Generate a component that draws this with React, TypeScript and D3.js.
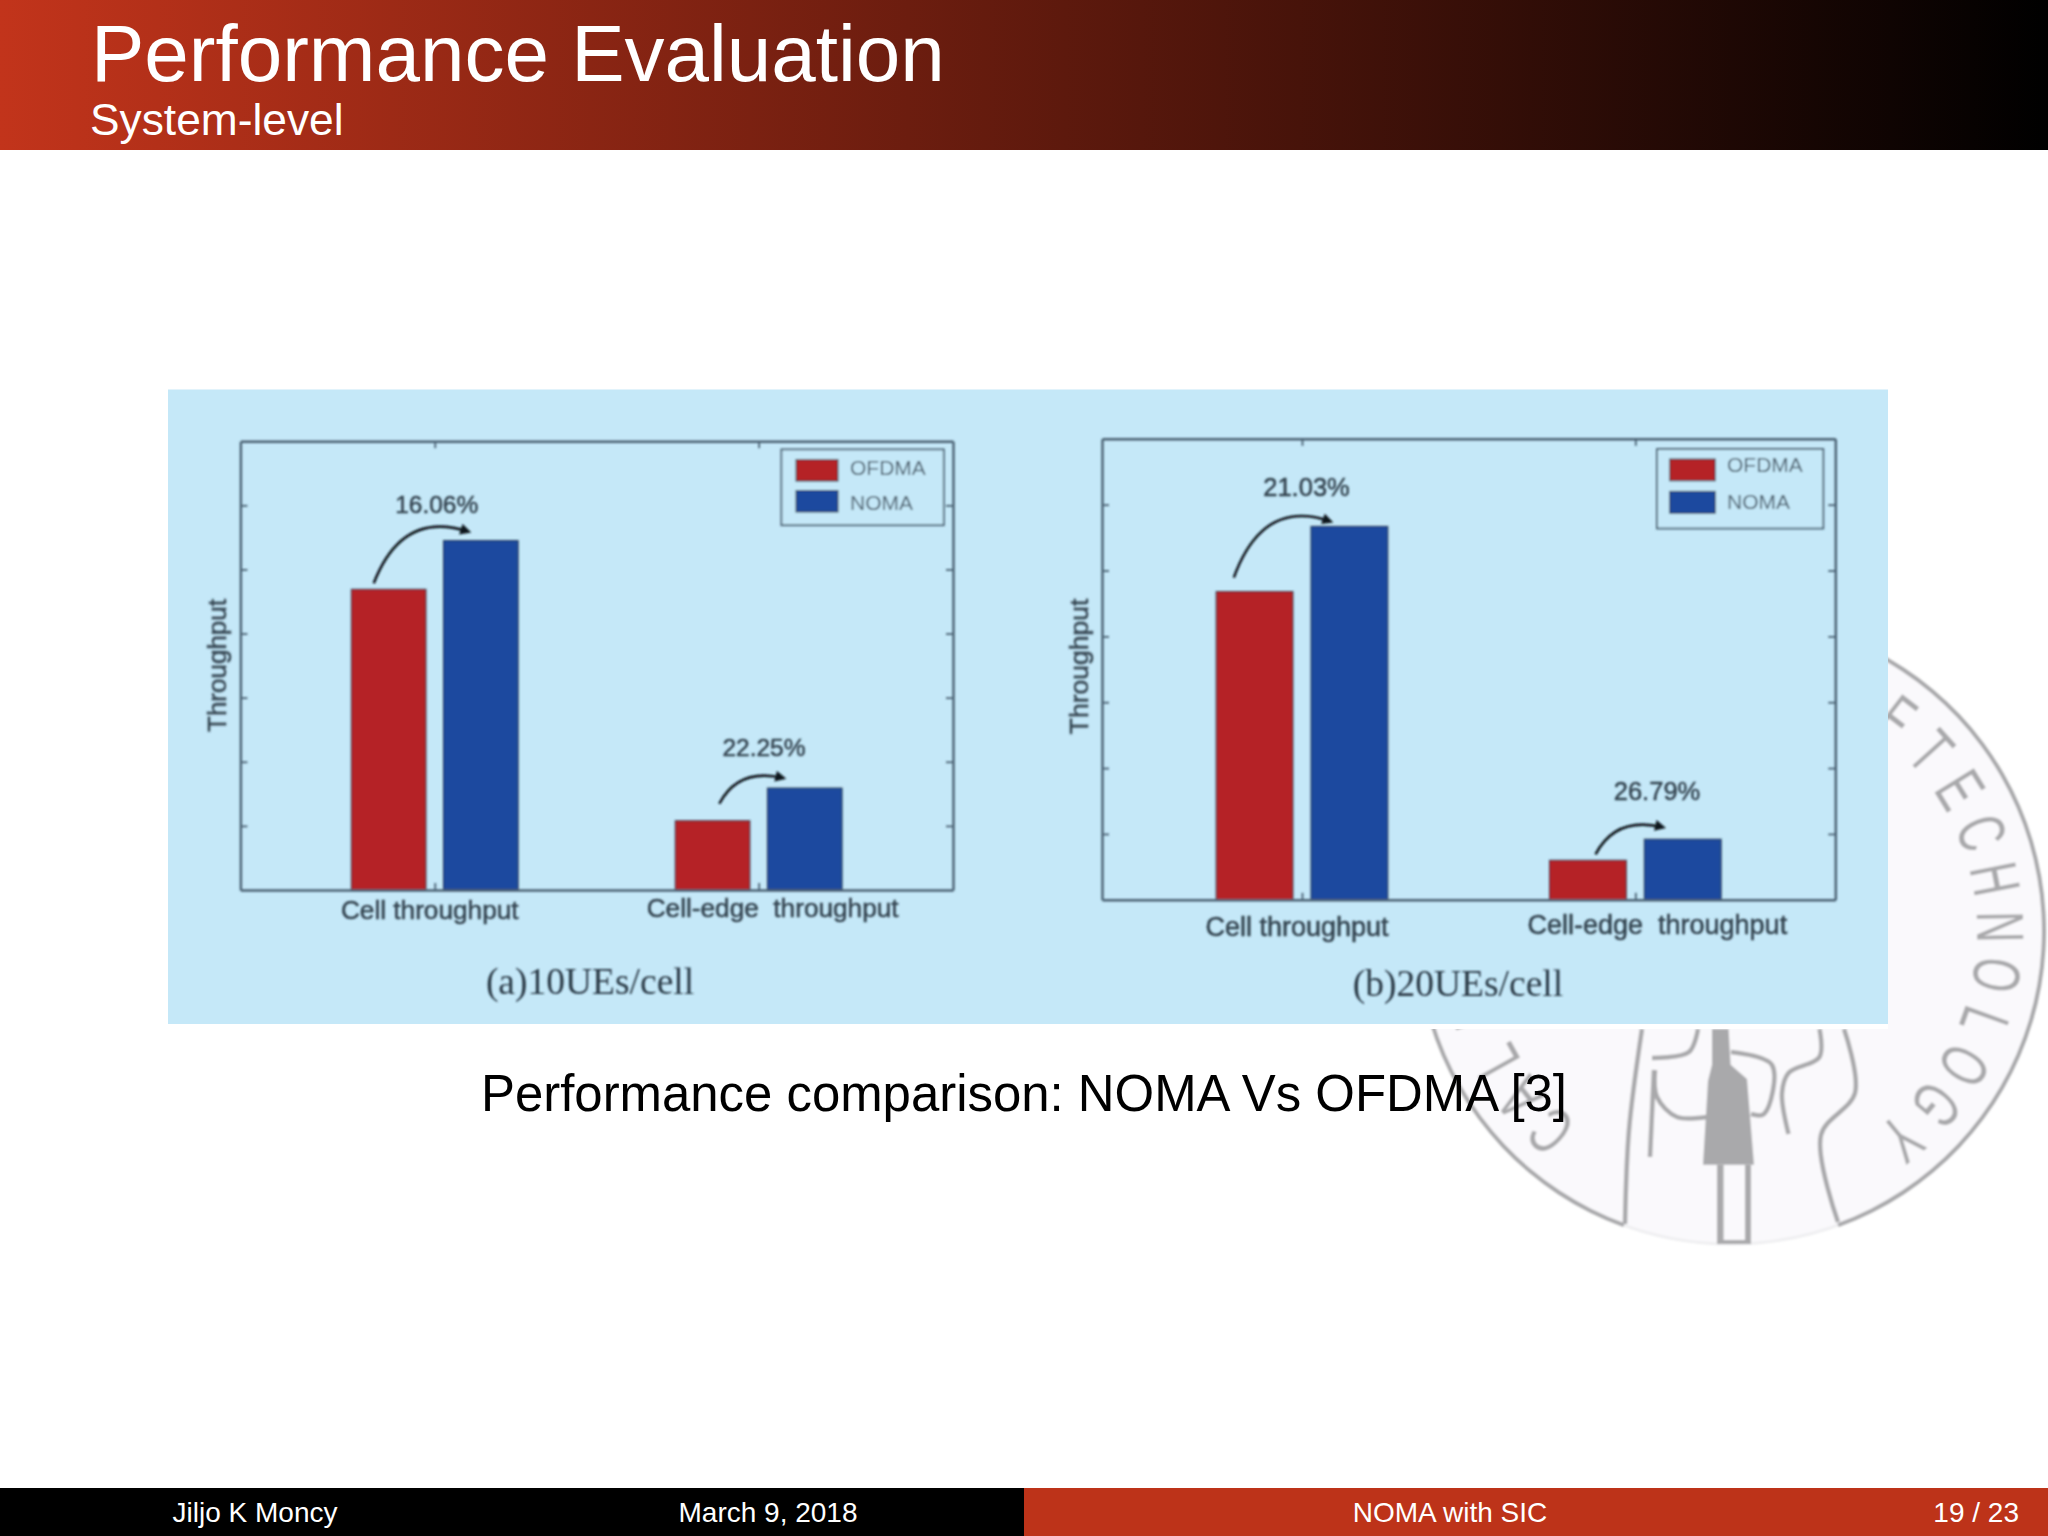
/*eslint-disable*/
import React, { useEffect, useRef } from 'react';
import * as d3 from 'd3';

// values, in tick units of the unlabelled y axis
const categories = ['Cell throughput', 'Cell-edge  throughput'];
const seriesNames = ['OFDMA', 'NOMA'];
const seriesColors = ['#b52226', '#1b4a9f'];
const ofdma10 = [4.69, 1.08];
const noma10 = [5.45, 1.59];
const ofdma20 = [4.68, 0.6];
const noma20 = [5.67, 0.92];
const gains10 = ['16.06%', '22.25%'];
const gains20 = ['21.03%', '26.79%'];
const yTicks = [1, 2, 3, 4, 5, 6];
const xTicks = [1, 2];

const titleText = 'Performance Evaluation';
const subtitleText = 'System-level';
const captionText = 'Performance comparison: NOMA Vs OFDMA [3]';
const footerLeft = ['Jiljo K Moncy', 'March 9, 2018'];
const footerRight = ['NOMA with SIC', '19 / 23'];
const logoLetters = ['O', 'F', 'T', 'E', 'C', 'H', 'N', 'O', 'L', 'O', 'G', 'Y'];
const logoLowerLetters = ['C', 'A', 'L', 'I'];

const panels = [
  {
    caption: '(a)10UEs/cell', captionX: 590, captionY: 994,
    ofdma: ofdma10, noma: noma10, gains: gains10,
    left: 240.4, right: 953, top: 441.2, bottom: 890,
    yLabelX: 226, yLabelY: 665.5, yLabelSize: 26,
    catDx: [-5, 14], catY: [919, 917], catSize: 26.2,
    gainX: [436.7, 764], gainY: [512.5, 756], gainSize: 24.5,
    arrowFrom: [0.3, 0.59], arrowTo: [0.33, 0.21],
    liftFrom: [6, 17], liftTo: [9, 10],
    legend: { x: 781.4, y: 449.4, w: 162.4, h: 75.8, sx: 796, sw: 42, red: 459.6, blue: 490.5, sh: 21.5, tx: 850, t1: 474.5, t2: 510 },
  },
  {
    caption: '(b)20UEs/cell', captionX: 1458, captionY: 995.5,
    ofdma: ofdma20, noma: noma20, gains: gains20,
    left: 1102, right: 1835.3, top: 438.8, bottom: 899.8,
    yLabelX: 1088, yLabelY: 666.5, yLabelSize: 26.5,
    catDx: [-5, 22], catY: [936, 933.5], catSize: 27,
    gainX: [1306.5, 1657], gainY: [495.5, 799.5], gainSize: 25.5,
    arrowFrom: [0.23, 0.6], arrowTo: [0.25, 0.24],
    liftFrom: [14, 6], liftTo: [5, 12],
    legend: { x: 1657, y: 449, w: 166.3, h: 79.5, sx: 1669.7, sw: 45.5, red: 459, blue: 491.4, sh: 21.8, tx: 1727, t1: 472, t2: 509 },
  },
];

const SANS = '"Liberation Sans", Arial, sans-serif';
const SERIF = '"Liberation Serif", "Times New Roman", serif';
const INK = '#33434f';
const FRAME = '#4a6172';
const LOGO = '#a9a9ab';
const rad = (deg: number) => (deg * Math.PI) / 180;

const App: React.FC = () => {
  const svgRef = useRef<SVGSVGElement>(null);

  useEffect(() => {
    const svg = d3.select(svgRef.current);
    svg.selectAll('*').remove();
    const defs = svg.append('defs');

    const grad = defs.append('linearGradient').attr('id', 'head');
    grad.append('stop').attr('offset', '0%').attr('stop-color', '#c2341b');
    grad.append('stop').attr('offset', '100%').attr('stop-color', '#000000');

    defs.append('filter').attr('id', 'soft')
      .append('feGaussianBlur').attr('stdDeviation', 0.8);

    defs.append('marker').attr('id', 'tip')
      .attr('viewBox', '0 0 10 10').attr('refX', 7).attr('refY', 5)
      .attr('markerWidth', 12).attr('markerHeight', 11)
      .attr('markerUnits', 'userSpaceOnUse').attr('orient', 'auto')
      .append('path').attr('d', 'M0,0L10,5L0,10Z').attr('fill', '#10181f');

    // page background
    svg.append('rect').attr('width', 2048).attr('height', 1536).attr('fill', '#fff');

    // watermark logo, mostly hidden behind the figure
    const cx = 1731, cy = 931, rOuter = 313, rText = 246;
    const logo = svg.append('g').attr('filter', 'url(#soft)');
    logo.append('circle').attr('cx', cx).attr('cy', cy).attr('r', rOuter)
      .attr('fill', '#faf9fc').attr('stroke', '#efeff1').attr('stroke-width', 3);
    const ring = d3.arc()
      .innerRadius(rOuter - 2).outerRadius(rOuter + 2)
      .startAngle(rad(200)).endAngle(rad(520));
    logo.append('path').attr('transform', `translate(${cx},${cy})`)
      .attr('d', ring(null as any)).attr('fill', LOGO);

    const drawLetters = (cls, letters, angle) => {
      logo.selectAll(`text.${cls}`).data(letters).join('text').attr('class', cls)
        .attr('transform', (_, i) => `translate(${cx},${cy}) rotate(${angle(i)}) translate(0,${-rText}) scale(0.65,1)`)
        .attr('text-anchor', 'middle').attr('font-family', SANS).attr('font-size', 67)
        .attr('fill', LOGO).text(d => d);
    };
    drawLetters('upper', logoLetters, d3.scaleLinear().domain([0, logoLetters.length - 1]).range([27.5, 140.5]));
    drawLetters('lower', logoLowerLetters, d3.scaleLinear().domain([0, logoLowerLetters.length - 1]).range([222, 250.5]));

    const logoLine = d3.line().curve(d3.curveCatmullRom);
    const outlines: [number, number][][] = [
      [[1642, 1029], [1629, 1130], [1625, 1224]],
      [[1844, 1029], [1855, 1093], [1821, 1135], [1838, 1222]],
      [[1652, 1058], [1689, 1052], [1698, 1029]],
      [[1655, 1070], [1657, 1097], [1677, 1117], [1707, 1117]],
      [[1654, 1070], [1650, 1157]],
      [[1731, 1052], [1772, 1065], [1764, 1114], [1751, 1114]],
      [[1819.5, 1029], [1819.5, 1057], [1788.5, 1073], [1782, 1093], [1788.5, 1134]],
    ];
    logo.selectAll('path.outline').data(outlines).join('path').attr('class', 'outline')
      .attr('d', d => logoLine(d)).attr('fill', 'none')
      .attr('stroke', LOGO).attr('stroke-width', 4.5);
    logo.append('path')
      .attr('d', 'M1712,1029L1728.6,1029L1730.6,1064.7L1747,1079L1754,1164.7L1703,1164.7L1708,1081L1712,1064.7Z')
      .attr('fill', LOGO);
    logo.append('rect').attr('x', 1717).attr('y', 1165).attr('width', 34).attr('height', 79).attr('fill', LOGO);
    logo.append('rect').attr('x', 1723.6).attr('y', 1165).attr('width', 21.4).attr('height', 75).attr('fill', '#faf9fc');

    // header band
    svg.append('rect').attr('width', 2048).attr('height', 150).attr('fill', 'url(#head)');
    svg.append('text').attr('x', 91).attr('y', 81).attr('font-family', SANS)
      .attr('font-size', 80).attr('fill', '#fff').text(titleText);
    svg.append('text').attr('x', 90).attr('y', 134.5).attr('font-family', SANS)
      .attr('font-size', 44.3).attr('fill', '#fff').text(subtitleText);

    // the pasted figure: white margin then the light blue picture
    svg.append('rect').attr('x', 160).attr('y', 1024).attr('width', 1728).attr('height', 5).attr('fill', '#fff');
    svg.append('rect').attr('x', 168).attr('y', 389.5).attr('width', 1720).attr('height', 634.5).attr('fill', '#c5e8f8');

    panels.forEach(p => {
      const g = svg.append('g').attr('filter', 'url(#soft)');

      const x = d3.scaleLinear().domain([0.4, 2.6]).range([p.left, p.right]);
      const y = d3.scaleLinear().domain([0, 7]).range([p.bottom, p.top]);
      const groupW = (x(2) - x(1)) * 0.515;
      const inner = d3.scaleBand().domain(seriesNames)
        .range([-groupW / 2, groupW / 2]).paddingInner(0.19);

      const rows = categories.map((c, i) => ({ i, c, vals: [p.ofdma[i], p.noma[i]] }));

      // bars
      const groups = g.selectAll('g.group').data(rows).join('g').attr('class', 'group');
      groups.selectAll('rect').data(d => d.vals.map((v, s) => ({ v, s, i: d.i }))).join('rect')
        .attr('x', d => x(xTicks[d.i]) + inner(seriesNames[d.s]))
        .attr('y', d => y(d.v))
        .attr('width', inner.bandwidth())
        .attr('height', d => y(0) - y(d.v))
        .attr('fill', d => seriesColors[d.s])
        .attr('stroke', '#2c3a4a').attr('stroke-width', 1);

      // box with inward ticks on all four sides
      const styleAxis = sel => {
        sel.select('.domain').attr('stroke', FRAME).attr('stroke-width', 2.4);
        sel.selectAll('.tick line').attr('stroke', FRAME).attr('stroke-width', 1.8);
      };
      g.append('g').attr('transform', `translate(${p.left},0)`)
        .call(d3.axisLeft(y).tickValues(yTicks).tickSize(-7).tickSizeOuter(0).tickFormat(() => '')).call(styleAxis);
      g.append('g').attr('transform', `translate(${p.right},0)`)
        .call(d3.axisRight(y).tickValues(yTicks).tickSize(-7).tickSizeOuter(0).tickFormat(() => '')).call(styleAxis);
      g.append('g').attr('transform', `translate(0,${p.bottom})`)
        .call(d3.axisBottom(x).tickValues(xTicks).tickSize(-7).tickSizeOuter(0).tickFormat(() => '')).call(styleAxis);
      g.append('g').attr('transform', `translate(0,${p.top})`)
        .call(d3.axisTop(x).tickValues(xTicks).tickSize(-7).tickSizeOuter(0).tickFormat(() => '')).call(styleAxis);

      // text in the picture looks heavier than a plain regular face
      const heavy = sel => sel.attr('stroke', INK).attr('stroke-width', 0.5);

      // category labels
      g.selectAll('text.cat').data(rows).join('text').attr('class', 'cat')
        .attr('x', d => x(xTicks[d.i]) + p.catDx[d.i])
        .attr('y', d => p.catY[d.i])
        .attr('text-anchor', 'middle').attr('font-family', SANS).attr('font-size', p.catSize)
        .attr('fill', INK).style('white-space', 'pre').call(heavy).text(d => d.c);

      g.append('text')
        .attr('transform', `translate(${p.yLabelX},${p.yLabelY}) rotate(-90)`)
        .attr('text-anchor', 'middle').attr('font-family', SANS).attr('font-size', p.yLabelSize)
        .attr('fill', INK).call(heavy).text('Throughput');

      // gain labels and curved arrows between the two bars of a group
      g.selectAll('text.gain').data(rows).join('text').attr('class', 'gain')
        .attr('x', d => p.gainX[d.i]).attr('y', d => p.gainY[d.i])
        .attr('text-anchor', 'middle').attr('font-family', SANS).attr('font-size', p.gainSize)
        .attr('fill', INK).call(heavy).text(d => p.gains[d.i]);

      g.selectAll('path.arrow').data(rows).join('path').attr('class', 'arrow')
        .attr('d', d => {
          const x0 = x(xTicks[d.i]) + inner(seriesNames[0]) + p.arrowFrom[d.i] * inner.bandwidth();
          const y0 = y(d.vals[0]) - p.liftFrom[d.i];
          const x1 = x(xTicks[d.i]) + inner(seriesNames[1]) + p.arrowTo[d.i] * inner.bandwidth();
          const y1 = y(d.vals[1]) - p.liftTo[d.i];
          const path = d3.path();
          path.moveTo(x0, y0);
          path.quadraticCurveTo(x0 + 0.3 * (x1 - x0), y1 - 0.42 * (y0 - y1), x1, y1);
          return path.toString();
        })
        .attr('fill', 'none').attr('stroke', '#10181f').attr('stroke-width', 2.6)
        .attr('marker-end', 'url(#tip)');

      // legend
      const lg = p.legend;
      g.append('rect').attr('x', lg.x).attr('y', lg.y).attr('width', lg.w).attr('height', lg.h)
        .attr('fill', '#c5e8f8').attr('stroke', FRAME).attr('stroke-width', 1.8);
      seriesNames.forEach((name, s) => {
        g.append('rect').attr('x', lg.sx).attr('y', s === 0 ? lg.red : lg.blue)
          .attr('width', lg.sw).attr('height', lg.sh)
          .attr('fill', seriesColors[s]).attr('stroke', '#2c3a4a').attr('stroke-width', 1);
        g.append('text').attr('x', lg.tx).attr('y', s === 0 ? lg.t1 : lg.t2)
          .attr('font-family', SANS).attr('font-size', 21).attr('fill', '#4c5f6d').text(name);
      });

      g.append('text').attr('x', p.captionX).attr('y', p.captionY)
        .attr('text-anchor', 'middle').attr('font-family', SERIF).attr('font-size', 37.5)
        .attr('fill', '#2b3a47').text(p.caption);
    });

    // slide caption
    svg.append('text').attr('x', 1024).attr('y', 1111).attr('text-anchor', 'middle')
      .attr('font-family', SANS).attr('font-size', 50.9).attr('fill', '#000').text(captionText);

    // footer
    svg.append('rect').attr('y', 1488).attr('width', 1024).attr('height', 48).attr('fill', '#000');
    svg.append('rect').attr('x', 1024).attr('y', 1488).attr('width', 1024).attr('height', 48).attr('fill', '#bd3319');
    const footer = (t, xPos, anchor) => svg.append('text').attr('x', xPos).attr('y', 1521.5)
      .attr('text-anchor', anchor).attr('font-family', SANS).attr('font-size', 28).attr('fill', '#fff').text(t);
    footer(footerLeft[0], 255, 'middle');
    footer(footerLeft[1], 768, 'middle');
    footer(footerRight[0], 1450, 'middle');
    footer(footerRight[1], 2019, 'end');
  }, []);

  return <svg ref={svgRef} width={2048} height={1536} style={{ position: 'absolute', left: 0, top: 0, display: 'block' }}></svg>;
};

export default App;
